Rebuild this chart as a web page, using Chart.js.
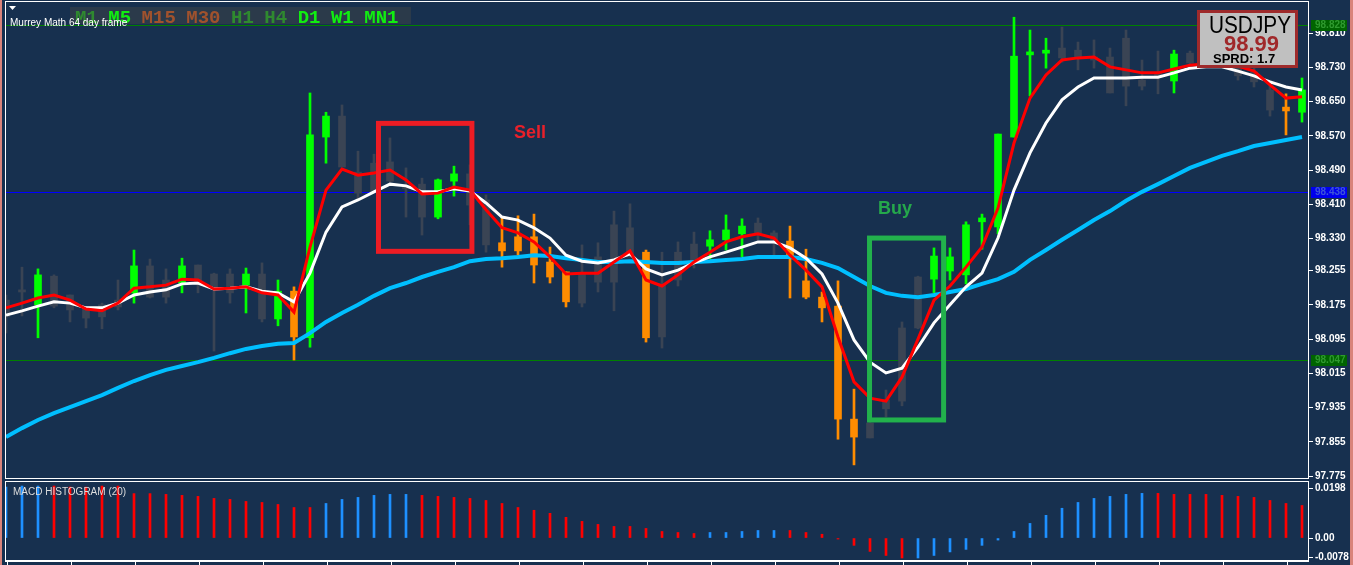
<!DOCTYPE html>
<html>
<head>
<meta charset="utf-8">
<script src="https://cdn.jsdelivr.net/npm/chart.js@4/dist/chart.umd.min.js"></script>
<style>
  html, body { margin: 0; padding: 0; background: #17304f; overflow: hidden; }
  #wrap { position: relative; width: 1353px; height: 565px; }
  canvas { position: absolute; left: 0; }
  #principal { top: 0; }
  #macd { top: 480px; }
</style>
</head>
<body>
<div id="wrap">
  <canvas id="principal" width="1353" height="480"></canvas>
  <canvas id="macd" width="1353" height="85"></canvas>
</div>
<script>
// Datos (USDJPY, 82 velas)
const aperturas = [
  98.186, 98.210, 98.175, 98.242, 98.198, 98.168, 98.175, 98.186, 98.203, 98.266,
  98.233, 98.226, 98.268, 98.247, 98.247, 98.221, 98.247, 98.142, 98.207, 98.098,
  98.567, 98.616, 98.485, 98.506, 98.509, 98.455, 98.457, 98.380, 98.464, 98.481,
  98.420, 98.320, 98.334, 98.334, 98.275, 98.252, 98.249, 98.287, 98.362, 98.355,
  98.298, 98.224, 98.298, 98.317, 98.312, 98.327, 98.341, 98.366, 98.343, 98.324,
  98.231, 98.193, 98.172, 97.908, 97.899, 97.953, 98.121, 98.240, 98.235, 98.254,
  98.245, 98.369, 98.357, 98.567, 98.759, 98.763, 98.775, 98.770, 98.754, 98.754,
  98.798, 98.700, 98.717, 98.698, 98.763, 98.770, 98.760, 98.738, 98.719, 98.677,
  98.637, 98.625
];
const maximos = [
  98.198, 98.263, 98.259, 98.245, 98.198, 98.168, 98.179, 98.233, 98.303, 98.282,
  98.259, 98.284, 98.268, 98.249, 98.259, 98.261, 98.273, 98.233, 98.217, 98.670,
  98.625, 98.642, 98.534, 98.527, 98.565, 98.495, 98.471, 98.469, 98.499, 98.502,
  98.432, 98.380, 98.383, 98.387, 98.310, 98.252, 98.315, 98.320, 98.394, 98.411,
  98.303, 98.298, 98.322, 98.345, 98.348, 98.385, 98.376, 98.378, 98.348, 98.359,
  98.305, 98.205, 98.231, 97.978, 97.929, 97.976, 98.135, 98.242, 98.308, 98.308,
  98.369, 98.387, 98.574, 98.847, 98.817, 98.798, 98.824, 98.789, 98.794, 98.775,
  98.817, 98.747, 98.768, 98.770, 98.768, 98.800, 98.790, 98.747, 98.735, 98.700,
  98.668, 98.705
];
const minimos = [
  98.109, 98.149, 98.098, 98.168, 98.135, 98.121, 98.119, 98.163, 98.179, 98.191,
  98.179, 98.203, 98.203, 98.067, 98.179, 98.156, 98.135, 98.126, 98.046, 98.076,
  98.506, 98.497, 98.420, 98.439, 98.462, 98.380, 98.338, 98.376, 98.429, 98.362,
  98.298, 98.263, 98.291, 98.226, 98.226, 98.170, 98.170, 98.205, 98.161, 98.287,
  98.088, 98.074, 98.219, 98.261, 98.282, 98.303, 98.287, 98.327, 98.291, 98.191,
  98.189, 98.135, 97.861, 97.801, 97.864, 97.913, 97.939, 98.119, 98.203, 98.233,
  98.224, 98.305, 98.341, 98.567, 98.663, 98.728, 98.742, 98.724, 98.728, 98.670,
  98.640, 98.677, 98.668, 98.670, 98.731, 98.740, 98.735, 98.700, 98.684, 98.616,
  98.572, 98.602
];
const cierres = [
  98.147, 98.205, 98.245, 98.172, 98.163, 98.144, 98.147, 98.170, 98.266, 98.193,
  98.193, 98.266, 98.228, 98.212, 98.203, 98.247, 98.142, 98.207, 98.100, 98.572,
  98.616, 98.497, 98.436, 98.439, 98.464, 98.446, 98.380, 98.467, 98.481, 98.408,
  98.315, 98.301, 98.301, 98.268, 98.240, 98.182, 98.179, 98.228, 98.228, 98.287,
  98.098, 98.100, 98.233, 98.275, 98.327, 98.350, 98.359, 98.343, 98.327, 98.284,
  98.193, 98.168, 97.908, 97.866, 97.864, 97.932, 97.950, 98.121, 98.289, 98.287,
  98.362, 98.378, 98.574, 98.756, 98.766, 98.770, 98.752, 98.754, 98.747, 98.670,
  98.686, 98.686, 98.707, 98.761, 98.740, 98.756, 98.745, 98.710, 98.696, 98.630,
  98.628, 98.677
];
// g = verde (alcista), o = naranja (bajista), n = gris (neutral); 10 velas por bloque
const tonosVela = [
  'nngnnnnngn', 'ngnnngngog', 'gnnnnnnggn', 'nooooonnnn', 'onnngggnno',
  'oooonnnngg', 'ggggggnnnn', 'nnngnnnnnn', 'og'
].join('');

// Medias moviles
const mediaRoja = [
  98.168, 98.179, 98.191, 98.198, 98.186, 98.165, 98.161, 98.179, 98.214, 98.217,
  98.221, 98.235, 98.233, 98.212, 98.214, 98.217, 98.203, 98.198, 98.158, 98.310,
  98.443, 98.492, 98.478, 98.483, 98.490, 98.467, 98.434, 98.436, 98.450, 98.443,
  98.397, 98.355, 98.343, 98.322, 98.287, 98.247, 98.249, 98.249, 98.275, 98.301,
  98.233, 98.219, 98.245, 98.275, 98.298, 98.322, 98.334, 98.341, 98.331, 98.291,
  98.256, 98.217, 98.100, 97.995, 97.957, 97.950, 98.006, 98.095, 98.186, 98.219,
  98.263, 98.310, 98.401, 98.553, 98.658, 98.712, 98.747, 98.752, 98.754, 98.731,
  98.724, 98.717, 98.717, 98.726, 98.735, 98.738, 98.738, 98.733, 98.721, 98.689,
  98.658, 98.661
];
const mediaBlanca = [
  98.151, 98.161, 98.172, 98.182, 98.179, 98.168, 98.168, 98.179, 98.198, 98.205,
  98.210, 98.224, 98.226, 98.212, 98.214, 98.217, 98.207, 98.203, 98.182, 98.249,
  98.345, 98.404, 98.420, 98.439, 98.457, 98.453, 98.439, 98.439, 98.446, 98.441,
  98.413, 98.380, 98.373, 98.355, 98.331, 98.291, 98.277, 98.273, 98.280, 98.294,
  98.259, 98.245, 98.256, 98.273, 98.287, 98.298, 98.310, 98.322, 98.322, 98.308,
  98.284, 98.247, 98.179, 98.093, 98.041, 98.016, 98.027, 98.076, 98.133, 98.175,
  98.217, 98.249, 98.331, 98.443, 98.530, 98.600, 98.654, 98.684, 98.705, 98.705,
  98.705, 98.707, 98.707, 98.717, 98.728, 98.731, 98.731, 98.721, 98.710, 98.696,
  98.684, 98.677
];
const mediaCian = [
  97.866, 97.887, 97.906, 97.922, 97.936, 97.950, 97.964, 97.981, 97.997, 98.011,
  98.023, 98.032, 98.041, 98.051, 98.062, 98.072, 98.079, 98.084, 98.086, 98.109,
  98.135, 98.156, 98.175, 98.196, 98.214, 98.226, 98.240, 98.252, 98.263, 98.277,
  98.282, 98.284, 98.287, 98.291, 98.289, 98.284, 98.280, 98.275, 98.275, 98.277,
  98.275, 98.273, 98.273, 98.275, 98.277, 98.280, 98.282, 98.287, 98.287, 98.287,
  98.282, 98.273, 98.261, 98.240, 98.219, 98.203, 98.196, 98.193, 98.198, 98.205,
  98.212, 98.224, 98.235, 98.252, 98.280, 98.303, 98.327, 98.350, 98.373, 98.394,
  98.418, 98.439, 98.457, 98.476, 98.495, 98.509, 98.523, 98.534, 98.546, 98.553,
  98.560, 98.567
];

// Histograma MACD (20)
const macdValores = [
  0.0202, 0.0206, 0.0206, 0.0206, 0.0202, 0.0202, 0.0206, 0.0206, 0.0176, 0.0176,
  0.0173, 0.0169, 0.0165, 0.0157, 0.0153, 0.0145, 0.0141, 0.0133, 0.0121, 0.0121,
  0.0137, 0.0153, 0.0161, 0.0169, 0.0173, 0.0173, 0.0169, 0.0165, 0.0161, 0.0157,
  0.0149, 0.0137, 0.0121, 0.0110, 0.0098, 0.0082, 0.0066, 0.0054, 0.0046, 0.0046,
  0.0038, 0.0026, 0.0022, 0.0018, 0.0022, 0.0022, 0.0026, 0.0030, 0.0030, 0.0030,
  0.0022, 0.0015, -0.0004, -0.0029, -0.0053, -0.0069, -0.0079, -0.0079, -0.0069, -0.0055,
  -0.0045, -0.0029, -0.0008, 0.0026, 0.0058, 0.0090, 0.0118, 0.0141, 0.0157, 0.0165,
  0.0173, 0.0177, 0.0177, 0.0173, 0.0173, 0.0173, 0.0169, 0.0165, 0.0161, 0.0149,
  0.0137, 0.0129
];
// b = azul (sube), r = rojo (baja); 10 barras por bloque
const macdTonos = [
  'bbbrrrrrrr', 'rrrrrrrrrr', 'bbbbbbrrrr', 'rrrrrrrrrr', 'rrrrbbbbbr',
  'rrrrrrrbbb', 'bbbbbbbbbb', 'bbrrrrrrrr', 'rr'
].join('');

// Etiquetas de los ejes
const preciosEje = [98.810, 98.730, 98.650, 98.570, 98.490, 98.410, 98.330, 98.255, 98.175, 98.095, 98.015, 97.935, 97.855, 97.775];
const macdEje = [0.0198, 0, -0.0078];

// Niveles horizontales
const nivelesPrecio = [98.828, 98.438, 98.047];

// Zonas y textos (indice de vela, precio)
const zonaVentaX = [23.28, 29.12];
const zonaVentaPrecio = [98.300, 98.599];
const zonaCompraX = [53.97, 58.60];
const zonaCompraPrecio = [97.906, 98.331];
const textoVenta = { texto: 'Sell', x: 32.75, precio: 98.576 };
const textoCompra = { texto: 'Buy', x: 55.56, precio: 98.399 };

const botonesPeriodo = ['M1', 'M5', 'M15', 'M30', 'H1', 'H4', 'D1', 'W1', 'MN1'];

const FONDO = '#17304f';
const SALMON = '#d9837a';
const coloresVela = { g: '#00ff00', o: '#ff8c00', n: '#3a4454' };
const coloresNivel = ['#008000', '#0000ff', '#008000'];
const coloresBoton = { M1: '#2f8a2f', M5: '#11ee11', M15: '#a0522d', M30: '#a0522d', H1: '#2f8a2f', H4: '#2f8a2f', D1: '#11ee11', W1: '#11ee11', MN1: '#11ee11' };

const X_MIN = -0.0625;
const X_MAX = 81.4375;

// Tablas para las barras flotantes
const indices = aperturas.map((_, i) => i);
const mechas = indices.map(i => ({ x: i, y: [minimos[i], maximos[i]] }));
const cuerpos = indices.map(i => ({ x: i, y: [Math.min(aperturas[i], cierres[i]), Math.max(aperturas[i], cierres[i])] }));
const colorVelas = indices.map(i => coloresVela[tonosVela[i]]);
const serie = arr => arr.map((v, i) => ({ x: i, y: v }));

const pluginFondo = {
  id: 'fondo',
  beforeDraw(chart) {
    const c = chart.ctx;
    c.save();
    c.fillStyle = FONDO;
    c.fillRect(0, 0, chart.width, chart.height);
    c.fillStyle = SALMON;
    c.fillRect(0, 0, 2, chart.height);
    c.fillRect(1350, 0, 3, chart.height);
    c.restore();
  }
};

const pluginNiveles = {
  id: 'niveles',
  beforeDatasetsDraw(chart) {
    const c = chart.ctx, a = chart.chartArea, y = chart.scales.y;
    c.save();
    c.lineWidth = 1;
    nivelesPrecio.forEach((p, k) => {
      const py = Math.round(y.getPixelForValue(p)) + 0.5;
      c.strokeStyle = coloresNivel[k];
      c.beginPath();
      c.moveTo(a.left, py);
      c.lineTo(a.right, py);
      c.stroke();
    });
    c.restore();
  }
};

const pluginObjetos = {
  id: 'objetos',
  afterDatasetsDraw(chart) {
    const c = chart.ctx, x = chart.scales.x, y = chart.scales.y;
    c.save();
    const rect = (xs, ps, color) => {
      const x0 = x.getPixelForValue(xs[0]), x1 = x.getPixelForValue(xs[1]);
      const y0 = y.getPixelForValue(ps[1]), y1 = y.getPixelForValue(ps[0]);
      c.strokeStyle = color;
      c.lineWidth = 5;
      c.strokeRect(x0, y0, x1 - x0, y1 - y0);
    };
    rect(zonaVentaX, zonaVentaPrecio, '#ed1c24');
    rect(zonaCompraX, zonaCompraPrecio, '#22b14c');

    c.font = 'bold 18px "Liberation Sans", Arial, sans-serif';
    c.textAlign = 'center';
    c.textBaseline = 'middle';
    c.fillStyle = '#e8202a';
    c.fillText(textoVenta.texto, x.getPixelForValue(textoVenta.x), y.getPixelForValue(textoVenta.precio));
    c.fillStyle = '#25a84b';
    c.fillText(textoCompra.texto, x.getPixelForValue(textoCompra.x), y.getPixelForValue(textoCompra.precio));
    c.restore();
  },
  afterDraw(chart) {
    const c = chart.ctx, a = chart.chartArea, y = chart.scales.y;
    c.save();
    // Marco del panel
    c.strokeStyle = '#ffffff';
    c.lineWidth = 1;
    c.strokeRect(a.left + 0.5, a.top + 0.5, a.right - a.left - 1, a.bottom - a.top);

    // Etiquetas de niveles en el eje
    const fondosNivel = ['#006400', '#0000ee', '#006400'];
    const textosNivel = ['#2f9a2f', '#3d55d8', '#2f9a2f'];
    c.font = 'bold 10px "Liberation Sans", Arial, sans-serif';
    c.textBaseline = 'middle';
    c.textAlign = 'left';
    nivelesPrecio.forEach((p, k) => {
      const py = Math.round(y.getPixelForValue(p));
      c.fillStyle = fondosNivel[k];
      c.fillRect(a.right + 2, py - 5, 36, 11);
      c.fillStyle = textosNivel[k];
      c.fillText(p.toFixed(3), a.right + 6, py + 0.5);
    });

    // Botones de periodo
    c.fillStyle = '#2b3a4a';
    c.fillRect(70, 7, 341, 17);
    c.font = 'bold 19px "Liberation Mono", "Courier New", monospace';
    c.textBaseline = 'alphabetic';
    let bx = 75;
    botonesPeriodo.forEach(t => {
      c.fillStyle = coloresBoton[t];
      c.fillText(t, bx, 23);
      bx += c.measureText(t).width + 10.5;
    });

    // Titulo del indicador
    c.fillStyle = '#ffffff';
    c.beginPath();
    c.moveTo(9, 6); c.lineTo(16, 6); c.lineTo(12.5, 10); c.closePath();
    c.fill();
    c.font = '10px "Liberation Sans", Arial, sans-serif';
    c.fillText('Murrey Math 64 day frame', 10, 26);

    // Caja del simbolo
    c.fillStyle = '#c0c0c0';
    c.fillRect(1197, 10, 101, 58);
    c.strokeStyle = '#9e2a2b';
    c.lineWidth = 3;
    c.strokeRect(1198.5, 11.5, 98, 55);
    c.fillStyle = '#000000';
    c.font = '24px "Liberation Sans", Arial, sans-serif';
    c.fillText('USDJPY', 1209, 33, 82);
    c.fillStyle = '#a0282a';
    c.font = 'bold 22px "Liberation Sans", Arial, sans-serif';
    c.fillText('98.99', 1224, 51);
    c.fillStyle = '#000000';
    c.font = 'bold 13px "Liberation Sans", Arial, sans-serif';
    c.fillText('SPRD: 1.7', 1213, 63);
    c.restore();
  }
};

const ejeX = { type: 'linear', display: false, min: X_MIN, max: X_MAX, offset: false };

function ejeDerecho(min, max, valores, formato) {
  return {
    position: 'right',
    min: min,
    max: max,
    // ancho fijo y sin margen extra por las etiquetas de los extremos
    afterFit: s => { s.width = 44; s.paddingTop = 0; s.paddingBottom = 0; },
    afterBuildTicks: s => { s.ticks = valores.map(v => ({ value: v })); },
    grid: { drawOnChartArea: false, drawTicks: true, tickLength: 4, color: '#ffffff' },
    border: { display: false },
    ticks: {
      color: '#ffffff',
      autoSkip: false,
      padding: 2,
      font: { family: '"Liberation Sans", Arial, sans-serif', size: 10, weight: 'bold' },
      callback: formato
    }
  };
}

new Chart(document.getElementById('principal'), {
  type: 'bar',
  data: {
    datasets: [
      { type: 'line', data: serie(mediaRoja), borderColor: '#ff0000', borderWidth: 3, pointRadius: 0, tension: 0, order: 0 },
      { type: 'line', data: serie(mediaBlanca), borderColor: '#ffffff', borderWidth: 3, pointRadius: 0, tension: 0, order: 1 },
      { type: 'line', data: serie(mediaCian), borderColor: '#00bfff', borderWidth: 4, pointRadius: 0, tension: 0, order: 2 },
      { data: cuerpos, backgroundColor: colorVelas, barThickness: 7, minBarLength: 2, grouped: false, order: 3 },
      { data: mechas, backgroundColor: colorVelas, barThickness: 2, grouped: false, order: 4 }
    ]
  },
  options: {
    responsive: false,
    devicePixelRatio: 1,
    animation: false,
    events: [],
    layout: { padding: { left: 5, right: 0, top: 1, bottom: 2 } },
    plugins: { legend: { display: false }, tooltip: { enabled: false } },
    scales: {
      x: ejeX,
      y: ejeDerecho(97.7704, 98.8849, preciosEje, v => Number(v).toFixed(3))
    }
  },
  plugins: [pluginFondo, pluginNiveles, pluginObjetos]
});

const pluginMacd = {
  id: 'macdMarco',
  afterDraw(chart) {
    const c = chart.ctx, a = chart.chartArea, x = chart.scales.x;
    c.save();
    c.strokeStyle = '#ffffff';
    c.lineWidth = 1;
    c.strokeRect(a.left + 0.5, a.top - 0.5, a.right - a.left - 1, a.bottom - a.top + 1);
    // eje de tiempo
    c.beginPath();
    c.moveTo(a.left, a.bottom + 1.5);
    c.lineTo(a.right, a.bottom + 1.5);
    for (let i = 0; i <= 81; i += 4) {
      const px = Math.round(x.getPixelForValue(i)) + 1.5;
      c.moveTo(px, a.bottom + 1.5);
      c.lineTo(px, chart.height);
    }
    c.stroke();
    c.fillStyle = '#dddddd';
    c.font = '10px "Liberation Sans", Arial, sans-serif';
    c.fillText('MACD HISTOGRAM (20)', 13, 15);
    c.restore();
  }
};

new Chart(document.getElementById('macd'), {
  type: 'bar',
  data: {
    datasets: [{
      data: serie(macdValores),
      backgroundColor: indices.map(i => macdTonos[i] === 'b' ? '#1e90ff' : '#ff0000'),
      barThickness: 2,
      minBarLength: 1,
      grouped: false
    }]
  },
  options: {
    responsive: false,
    devicePixelRatio: 1,
    animation: false,
    events: [],
    layout: { padding: { left: 5, right: 0, top: 2, bottom: 5 } },
    plugins: { legend: { display: false }, tooltip: { enabled: false } },
    scales: {
      x: ejeX,
      y: ejeDerecho(-0.0087, 0.0222, macdEje, v => v === 0 ? '0.00' : Number(v).toFixed(4))
    }
  },
  plugins: [pluginFondo, pluginMacd]
});
</script>
</body>
</html>
